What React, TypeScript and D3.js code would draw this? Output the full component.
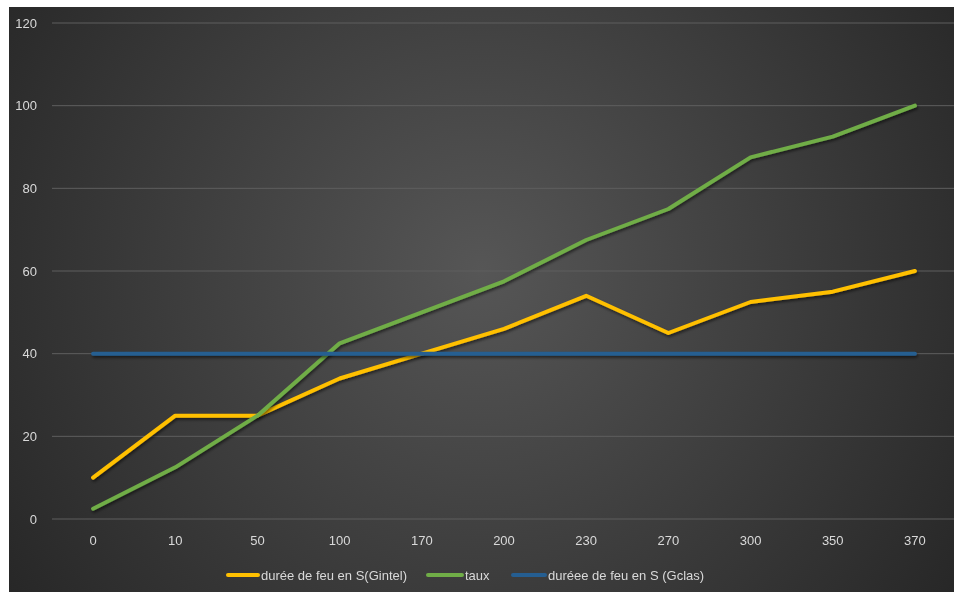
import React from "react";
import * as d3 from "d3";

const categories = ["0", "10", "50", "100", "170", "200", "230", "270", "300", "350", "370"];
const gintel = [10, 25, 25, 34, 40, 46, 54, 45, 52.5, 55, 60];
const taux = [2.5, 12.5, 25, 42.5, 50, 57.5, 67.5, 75, 87.5, 92.5, 100];
const gclas = [40, 40, 40, 40, 40, 40, 40, 40, 40, 40, 40];
const yTicks = [0, 20, 40, 60, 80, 100, 120];

const seriesNames = ["durée de feu en S(Gintel)", "taux", "duréee de feu en S (Gclas)"];
const seriesColors = ["#FFC000", "#70AD47", "#255E91"];

const W = 945;
const H = 585;
const plotLeft = 43;
const plotRight = 947;
const plotTop = 16;
const plotBottom = 512;
const FONT = "'Liberation Sans', Arial, sans-serif";

export default function App() {
  const x = d3.scaleBand<string>().domain(categories).range([plotLeft, plotRight]);
  const y = d3.scaleLinear().domain([0, 120]).range([plotBottom, plotTop]);
  const line = d3
    .line<number>()
    .x((_, i) => (x(categories[i]) as number) + x.bandwidth() / 2)
    .y((d) => y(d));

  const series = [gintel, taux, gclas];
  const legendX = [219, 419, 504];
  const legendSw = [30, 34, 32];

  return (
    <svg
      style={{ display: "block", position: "fixed", left: 9, top: 7, right: 0, bottom: 0, width: "calc(100vw - 9px)", height: "calc(100vh - 7px)", overflow: "hidden" }}
      fontFamily={FONT}
    >
      <defs>
        <radialGradient id="bg" gradientUnits="userSpaceOnUse" cx={W * 0.5} cy={H * 0.45} r={W * 0.62}>
          <stop offset="0%" stopColor="#565656" />
          <stop offset="100%" stopColor="#262626" />
        </radialGradient>
        <filter id="sh" filterUnits="userSpaceOnUse" x={0} y={0} width={W} height={H}>
          <feDropShadow dx="1" dy="2" stdDeviation="1.5" floodColor="#000" floodOpacity="0.55" />
        </filter>
      </defs>
      <rect x={0} y={0} width={W + 20} height={H + 20} fill="url(#bg)" />
      {yTicks.map((t) => (
        <g key={t}>
          <line x1={plotLeft} x2={plotRight} y1={y(t)} y2={y(t)} stroke="#5e5e5e" strokeWidth={1} />
          <text x={28} y={y(t)} dy="0.35em" textAnchor="end" fill="#d9d9d9" fontSize={13}>
            {t}
          </text>
        </g>
      ))}
      {categories.map((c) => (
        <text
          key={c}
          x={(x(c) as number) + x.bandwidth() / 2}
          y={533}
          dy="0.35em"
          textAnchor="middle"
          fill="#d9d9d9"
          fontSize={13}
        >
          {c}
        </text>
      ))}
      {series.map((s, i) => (
        <path
          key={i}
          d={line(s) as string}
          fill="none"
          stroke={seriesColors[i]}
          strokeWidth={4}
          strokeLinejoin="round"
          strokeLinecap="round"
          filter="url(#sh)"
        />
      ))}
      {seriesNames.map((n, i) => (
        <g key={n}>
          <line
            x1={legendX[i]}
            x2={legendX[i] + legendSw[i]}
            y1={568}
            y2={568}
            stroke={seriesColors[i]}
            strokeWidth={4}
            strokeLinecap="round"
          />
          <text x={legendX[i] + legendSw[i] + 3} y={568} dy="0.35em" fill="#d9d9d9" fontSize={13}>
            {n}
          </text>
        </g>
      ))}
    </svg>
  );
}
